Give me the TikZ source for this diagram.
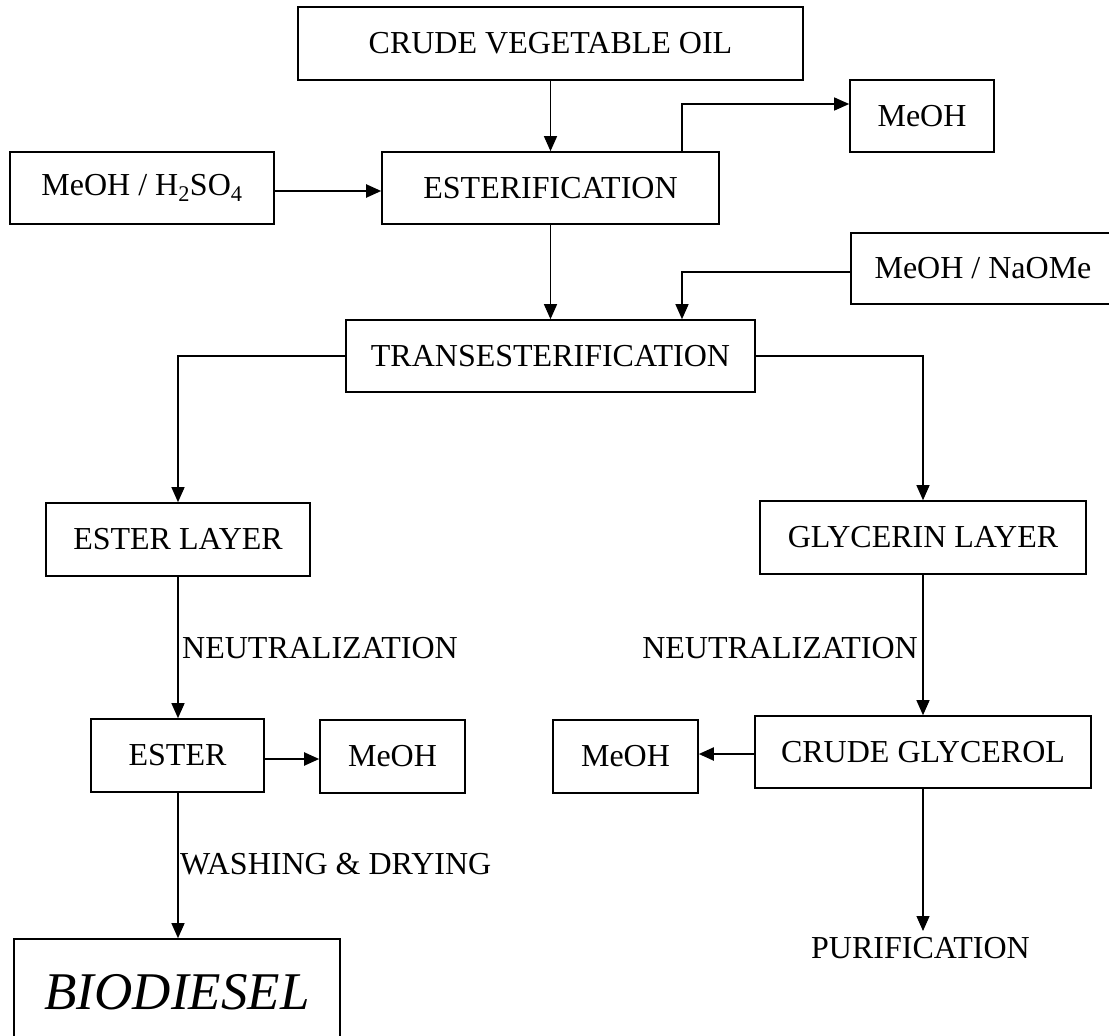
\documentclass[tikz,border=0pt]{standalone}
\usepackage{fontspec}
\setmainfont{Liberation Serif}
\usetikzlibrary{arrows.meta}
\begin{document}
\begin{tikzpicture}[x=1pt,y=-1pt,
  box/.style={draw,line width=1.6pt,inner sep=0pt,minimum width=#1},
  lbl/.style={inner sep=0pt,font=\fontsize{32}{38}\selectfont},
  conn/.style={line width=1.2pt,-{Triangle[length=15pt,width=13pt]}},
  thick conn/.style={line width=2pt,-{Triangle[length=15pt,width=13pt]}},
  every node/.style={font=\fontsize{32}{38}\selectfont}]
\useasboundingbox (0,0) rectangle (1109,1036);
\clip (0,0) rectangle (1109,1036);
% boxes
\node[box=505pt,minimum height=73pt] (crude) at (550.5,43.5) {CRUDE VEGETABLE OIL};
\node[box=144pt,minimum height=72pt] (meoha) at (922,116) {MeOH};
\node[box=264pt,minimum height=72pt] (acid) at (142,188) {MeOH / H\textsubscript{2}SO\textsubscript{4}};
\node[box=337pt,minimum height=72pt] (esterif) at (550.5,188) {ESTERIFICATION};
\node[box=264pt,minimum height=71pt] (base) at (983,268.5) {MeOH / NaOMe};
\node[box=409pt,minimum height=72pt] (trans) at (550.5,356) {TRANSESTERIFICATION};
\node[box=264pt,minimum height=73pt] (elayer) at (178,539.5) {ESTER LAYER};
\node[box=326pt,minimum height=73pt] (glayer) at (923,537.5) {GLYCERIN LAYER};
\node[box=173pt,minimum height=73pt] (ester) at (177.5,755.5) {ESTER};
\node[box=145pt,minimum height=73pt] (meohl) at (392.5,756.5) {MeOH};
\node[box=145pt,minimum height=73pt] (meohr) at (625.5,756.5) {MeOH};
\node[box=336pt,minimum height=72pt] (glycerol) at (923,752) {CRUDE GLYCEROL};
\node[box=326pt,minimum height=106pt,font=\fontsize{53}{60}\selectfont\itshape] (bio) at (177,992) {BIODIESEL};
\node[lbl] (purif) at (920.5,948) {PURIFICATION};
% labels
\node[lbl,anchor=west] (neutl) at (182,648) {NEUTRALIZATION};
\node[lbl,anchor=east] (neutr) at (918,648) {NEUTRALIZATION};
\node[lbl,anchor=west] (wash) at (180,864) {WASHING \& DRYING};
% connectors
\draw[conn] (crude.south) -- (esterif.north);
\draw[thick conn] (acid.east |- 0,191) -- (esterif.west |- 0,191);
\draw[conn] (esterif.north -| 682,0) |- (meoha.west |- 0,104);
\draw[conn] (esterif.south) -- (trans.north);
\draw[conn] (base.west |- 0,272) -| (trans.north -| 682,0);
\draw[conn] (trans.west) -| (elayer.north);
\draw[conn] (trans.east) -| (glayer.north);
\draw[conn] (elayer.south) -- (ester.north -| elayer.south);
\draw[conn] (glayer.south) -- (glycerol.north -| glayer.south);
\draw[thick conn] (ester.east |- 0,759) -- (meohl.west |- 0,759);
\draw[thick conn] (glycerol.west |- 0,754) -- (meohr.east |- 0,754);
\draw[conn] (ester.south -| 178,0) -- (bio.north -| 178,0);
\draw[conn] (glycerol.south) -- (glycerol.south |- 0,931);
\end{tikzpicture}
\end{document}
